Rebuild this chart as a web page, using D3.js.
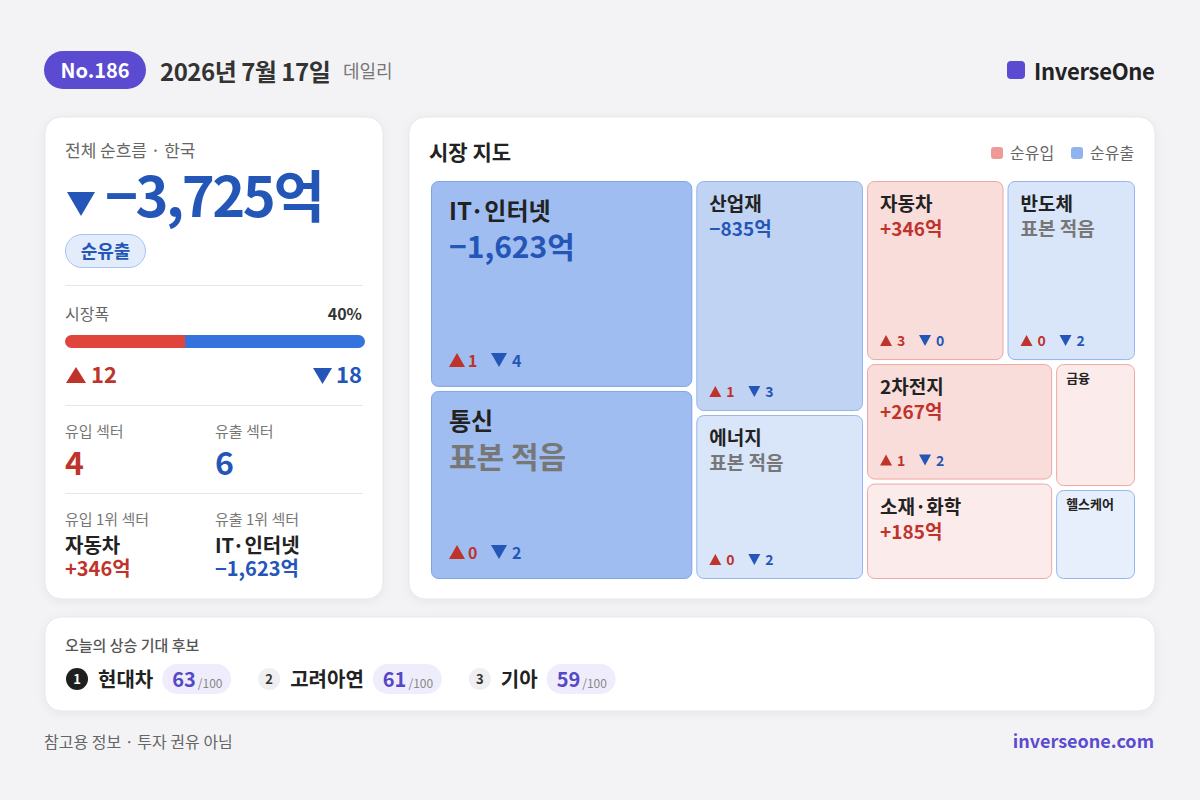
<!DOCTYPE html>
<html>
<head>
<meta charset="utf-8">
<script src="https://cdn.jsdelivr.net/npm/d3@7"></script>
<style>
  body { margin: 0; background: #f3f3f6; }
  svg { display: block; font-family: 'Noto Sans CJK KR', 'Noto Sans', sans-serif; }
</style>
</head>
<body>
<svg id="chart" width="1200" height="800"></svg>
<script>
// ---- data ----
var reportNo = 186;
var reportDate = '2026년 7월 17일';
var totalFlow = -3725;          // 억
var breadthUp = 12;
var breadthDown = 18;

var sectorNames = ['IT·인터넷', '통신', '산업재', '에너지', '자동차', '반도체', '2차전지', '소재·화학', '금융', '헬스케어'];
var netFlows    = [-1623, -1358, -835, -430, 346, -303, 267, 185, 57, -31];
var lowSample   = [false, true, false, true, false, true, false, false, false, false];
var upCounts    = [1, 0, 1, 0, 3, 0, 1, 3, 2, 1];
var downCounts  = [4, 2, 3, 2, 0, 2, 2, 1, 1, 1];

var candidates = ['현대차', '고려아연', '기아'];
var candidateScores = [63, 61, 59];

// ---- colours ----
var RED = '#c0332b', BLUE = '#2456b8', PURPLE = '#5a4bd0';
var redFill = d3.scaleThreshold().domain([200, 500, 1000]).range(['#fcebeb', '#f9dddb', '#f6c8c4', '#f2b1ab']);
var blueFill = d3.scaleThreshold().domain([200, 500, 1000]).range(['#e8effc', '#d9e5f9', '#c0d3f3', '#9fbdf0']);

var fmt = d3.format(',');
var fmtSigned = d3.format('+,');

var svg = d3.select('#chart');

var defs = svg.append('defs');
var shadow = defs.append('filter').attr('id', 'shadow')
    .attr('x', '-10%').attr('y', '-10%').attr('width', '120%').attr('height', '130%');
shadow.append('feDropShadow')
    .attr('dx', 0).attr('dy', 2).attr('stdDeviation', 5)
    .attr('flood-color', '#000').attr('flood-opacity', 0.05);

svg.append('rect').attr('width', 1200).attr('height', 800).attr('fill', '#f3f3f6');

// triangle icon path
function tri(x, y, w, h, up) {
    if (up) return `M${x},${y + h}L${x + w / 2},${y}L${x + w},${y + h}Z`;
    return `M${x},${y}L${x + w},${y}L${x + w / 2},${y + h}Z`;
}

function card(x, y, w, h) {
    svg.append('rect')
        .attr('x', x).attr('y', y).attr('width', w).attr('height', h)
        .attr('rx', 16)
        .attr('fill', '#fff')
        .attr('stroke', '#e7e7eb')
        .attr('filter', 'url(#shadow)');
}

// ---- header ----
svg.append('rect').attr('x', 44).attr('y', 51).attr('width', 102).attr('height', 38)
    .attr('rx', 19).attr('fill', PURPLE);
svg.append('text').attr('x', 95).attr('y', 78).attr('text-anchor', 'middle')
    .attr('fill', '#fff').attr('font-size', 20).attr('font-weight', 700)
    .text('No.' + reportNo);
svg.append('text').attr('x', 160).attr('y', 81)
    .attr('fill', '#333').attr('font-size', 24).attr('font-weight', 700)
    .attr('letter-spacing', -0.5)
    .text(reportDate);
svg.append('text').attr('x', 343).attr('y', 78)
    .attr('fill', '#777').attr('font-size', 18)
    .text('데일리');

svg.append('rect').attr('x', 1007).attr('y', 61).attr('width', 18).attr('height', 18)
    .attr('rx', 4).attr('fill', PURPLE);
svg.append('text').attr('x', 1034).attr('y', 80)
    .attr('fill', '#222').attr('font-size', 22).attr('font-weight', 700)
    .attr('letter-spacing', -0.3)
    .text('InverseOne');

// ---- left summary card ----
card(45, 117, 338, 482);
var L = svg.append('g');

L.append('text').attr('x', 65).attr('y', 157).attr('fill', '#666').attr('font-size', 17)
    .text('전체 순흐름 · 한국');
L.append('path').attr('d', tri(67, 192, 28, 24, totalFlow > 0)).attr('fill', totalFlow > 0 ? RED : BLUE);
L.append('text').attr('x', 105).attr('y', 217)
    .attr('fill', totalFlow > 0 ? RED : BLUE).attr('font-size', 56).attr('font-weight', 700)
    .attr('letter-spacing', -2.5)
    .text((totalFlow > 0 ? fmtSigned(totalFlow) : fmt(totalFlow)) + '억');

L.append('rect').attr('x', 65.5).attr('y', 234.5).attr('width', 80).attr('height', 33)
    .attr('rx', 16.5).attr('fill', '#e3ecfb').attr('stroke', '#a9c3f2');
L.append('text').attr('x', 105.5).attr('y', 258).attr('text-anchor', 'middle')
    .attr('fill', BLUE).attr('font-size', 18).attr('font-weight', 700)
    .text(totalFlow > 0 ? '순유입' : '순유출');

[285.5, 405.5, 493.5].forEach(function (y) {
    L.append('line').attr('x1', 65).attr('x2', 363).attr('y1', y).attr('y2', y)
        .attr('stroke', '#e6e6e8');
});

var breadthTotal = breadthUp + breadthDown;
L.append('text').attr('x', 65).attr('y', 320).attr('fill', '#666').attr('font-size', 16).text('시장폭');
L.append('text').attr('x', 362).attr('y', 320).attr('text-anchor', 'end')
    .attr('fill', '#333').attr('font-size', 16).attr('font-weight', 700)
    .text(d3.format('.0%')(breadthUp / breadthTotal));

var barX = d3.scaleLinear().domain([0, breadthTotal]).range([65, 365]);
defs.append('clipPath').attr('id', 'barClip')
    .append('rect').attr('x', 65).attr('y', 335).attr('width', 300).attr('height', 13).attr('rx', 6.5);
var barG = L.append('g').attr('clip-path', 'url(#barClip)');
barG.append('rect').attr('x', barX(0)).attr('y', 335)
    .attr('width', barX(breadthUp) - barX(0)).attr('height', 13).attr('fill', '#e0453d');
barG.append('rect').attr('x', barX(breadthUp)).attr('y', 335)
    .attr('width', barX(breadthTotal) - barX(breadthUp)).attr('height', 13).attr('fill', '#3473dd');

L.append('path').attr('d', tri(66, 367, 20, 16, true)).attr('fill', RED);
L.append('text').attr('x', 91).attr('y', 383).attr('fill', RED)
    .attr('font-size', 22).attr('font-weight', 700).text(breadthUp);
L.append('text').attr('x', 362).attr('y', 383).attr('text-anchor', 'end').attr('fill', BLUE)
    .attr('font-size', 22).attr('font-weight', 700).text(breadthDown);
L.append('path').attr('d', tri(313, 368, 19, 16, false)).attr('fill', BLUE);

var inCount = netFlows.filter(function (v) { return v > 0; }).length;
var outCount = netFlows.filter(function (v) { return v < 0; }).length;
L.append('text').attr('x', 65).attr('y', 437).attr('fill', '#777').attr('font-size', 15).text('유입 섹터');
L.append('text').attr('x', 215).attr('y', 437).attr('fill', '#777').attr('font-size', 15).text('유출 섹터');
L.append('text').attr('x', 65).attr('y', 475).attr('fill', RED).attr('font-size', 32).attr('font-weight', 700).text(inCount);
L.append('text').attr('x', 215).attr('y', 475).attr('fill', BLUE).attr('font-size', 32).attr('font-weight', 700).text(outCount);

var topIn = d3.maxIndex(netFlows);
var topOut = d3.minIndex(netFlows);
L.append('text').attr('x', 65).attr('y', 525).attr('fill', '#777').attr('font-size', 15).text('유입 1위 섹터');
L.append('text').attr('x', 215).attr('y', 525).attr('fill', '#777').attr('font-size', 15).text('유출 1위 섹터');
L.append('text').attr('x', 65).attr('y', 553).attr('fill', '#222').attr('font-size', 20).attr('font-weight', 700)
    .text(sectorNames[topIn]);
L.append('text').attr('x', 215).attr('y', 553).attr('fill', '#222').attr('font-size', 20).attr('font-weight', 700)
    .text(sectorNames[topOut]);
L.append('text').attr('x', 65).attr('y', 576).attr('fill', RED).attr('font-size', 20).attr('font-weight', 700)
    .text(fmtSigned(netFlows[topIn]) + '억');
L.append('text').attr('x', 215).attr('y', 576).attr('fill', BLUE).attr('font-size', 20).attr('font-weight', 700)
    .text(fmt(netFlows[topOut]) + '억');

// ---- market map (treemap) ----
card(409, 117, 746, 482);
svg.append('text').attr('x', 429).attr('y', 160).attr('fill', '#222')
    .attr('font-size', 21).attr('font-weight', 700).text('시장 지도');

var legend = [['순유입', '#ef9a96', 991], ['순유출', '#8fb3ef', 1071]];
legend.forEach(function (l) {
    svg.append('rect').attr('x', l[2]).attr('y', 147).attr('width', 12).attr('height', 12)
        .attr('rx', 3).attr('fill', l[1]);
    svg.append('text').attr('x', l[2] + 19).attr('y', 159).attr('fill', '#666')
        .attr('font-size', 16).text(l[0]);
});

var sectorData = sectorNames.map(function (name, i) {
    return { name: name, flow: netFlows[i], low: lowSample[i], up: upCounts[i], down: downCounts[i] };
});

// tile area grows with the square root of the absolute flow
var root = d3.hierarchy({ children: sectorData })
    .sum(function (d) { return d.flow === undefined ? 0 : Math.sqrt(Math.abs(d.flow)); })
    .sort(function (a, b) { return b.value - a.value; });

d3.treemap()
    .tile(d3.treemapSquarify.ratio(1))
    .size([704, 398])
    .paddingInner(4)(root);

var mapG = svg.append('g').attr('transform', 'translate(431,181)');

var cell = mapG.selectAll('.cell')
    .data(root.leaves())
    .enter().append('g')
    .attr('class', 'cell')
    .attr('transform', function (d) { return `translate(${d.x0},${d.y0})`; });

cell.append('rect')
    .attr('x', 0.5).attr('y', 0.5)
    .attr('width', function (d) { return d.x1 - d.x0 - 1; })
    .attr('height', function (d) { return d.y1 - d.y0 - 1; })
    .attr('rx', 7)
    .attr('fill', function (d) {
        var m = Math.abs(d.data.flow);
        return d.data.flow > 0 ? redFill(m) : blueFill(m);
    })
    .attr('stroke', function (d) {
        if (d.data.flow > 0) return '#efa7a2';
        return Math.abs(d.data.flow) >= 1000 ? '#7ea5ea' : '#94b5ee';
    });

cell.each(function (d) {
    var g = d3.select(this);
    var w = d.x1 - d.x0, h = d.y1 - d.y0;
    var size = w < 100 ? 'small' : (w > 220 && h > 150 ? 'large' : 'medium');

    if (size === 'small') {
        g.append('text').attr('x', 10).attr('y', 19)
            .attr('fill', '#222').attr('font-size', 13).attr('font-weight', 700)
            .text(d.data.name);
        return;
    }
    var s = size === 'large'
        ? { pad: 18, nameY: 39, nameF: 24, valY: 77, valF: 30, cntB: 20, cntF: 16, tw: 16, th: 14, n1: 19, t2: 42, n2: 63 }
        : { pad: 13, nameY: 30, nameF: 19, valY: 55, valF: 19, cntB: 14, cntF: 14, tw: 12, th: 11, n1: 17, t2: 39, n2: 56 };

    g.append('text').attr('x', s.pad).attr('y', s.nameY)
        .attr('fill', '#222').attr('font-size', s.nameF).attr('font-weight', 700)
        .text(d.data.name);

    var valText = d.data.low ? '표본 적음' : (d.data.flow > 0 ? fmtSigned(d.data.flow) : fmt(d.data.flow)) + '억';
    g.append('text').attr('x', s.pad).attr('y', s.valY)
        .attr('fill', d.data.low ? '#777' : (d.data.flow > 0 ? RED : BLUE))
        .attr('font-size', s.valF).attr('font-weight', 700)
        .text(valText);

    if (h < 110) return;
    var by = h - s.cntB;
    g.append('path').attr('d', tri(s.pad, by - s.th, s.tw, s.th, true)).attr('fill', RED);
    g.append('text').attr('x', s.pad + s.n1).attr('y', by).attr('fill', RED)
        .attr('font-size', s.cntF).attr('font-weight', 700).text(d.data.up);
    g.append('path').attr('d', tri(s.pad + s.t2, by - s.th, s.tw, s.th, false)).attr('fill', BLUE);
    g.append('text').attr('x', s.pad + s.n2).attr('y', by).attr('fill', BLUE)
        .attr('font-size', s.cntF).attr('font-weight', 700).text(d.data.down);
});

// ---- candidates ----
card(45, 617, 1110, 94);
svg.append('text').attr('x', 65).attr('y', 651).attr('fill', '#555')
    .attr('font-size', 15).attr('font-weight', 500).text('오늘의 상승 기대 후보');

var cursor = 66;
candidates.forEach(function (name, i) {
    var g = svg.append('g');
    g.append('circle').attr('cx', cursor + 11).attr('cy', 679).attr('r', 11)
        .attr('fill', i === 0 ? '#1f1f1f' : '#efeff1');
    g.append('text').attr('x', cursor + 11).attr('y', 684).attr('text-anchor', 'middle')
        .attr('fill', i === 0 ? '#fff' : '#333').attr('font-size', 13).attr('font-weight', 700)
        .text(i + 1);
    var nameText = g.append('text').attr('x', cursor + 32).attr('y', 687)
        .attr('fill', '#222').attr('font-size', 20).attr('font-weight', 700).text(name);
    var pillX = cursor + 32 + nameText.node().getComputedTextLength() + 9;
    g.append('rect').attr('x', pillX).attr('y', 664).attr('width', 69).attr('height', 30)
        .attr('rx', 15).attr('fill', '#efedfb');
    var sc = g.append('text').attr('x', pillX + 10).attr('y', 687)
        .attr('fill', '#5548c8').attr('font-size', 20).attr('font-weight', 700)
        .text(candidateScores[i]);
    g.append('text').attr('x', pillX + 12 + sc.node().getComputedTextLength()).attr('y', 688)
        .attr('fill', '#888').attr('font-size', 12).text('/100');
    cursor = pillX + 69 + 27;
});

// ---- footer ----
svg.append('text').attr('x', 44).attr('y', 748).attr('fill', '#666')
    .attr('font-size', 16).text('참고용 정보 · 투자 권유 아님');
svg.append('text').attr('x', 1154).attr('y', 748).attr('text-anchor', 'end')
    .attr('fill', PURPLE).attr('font-size', 18).attr('font-weight', 700).text('inverseone.com');
</script>
</body>
</html>
